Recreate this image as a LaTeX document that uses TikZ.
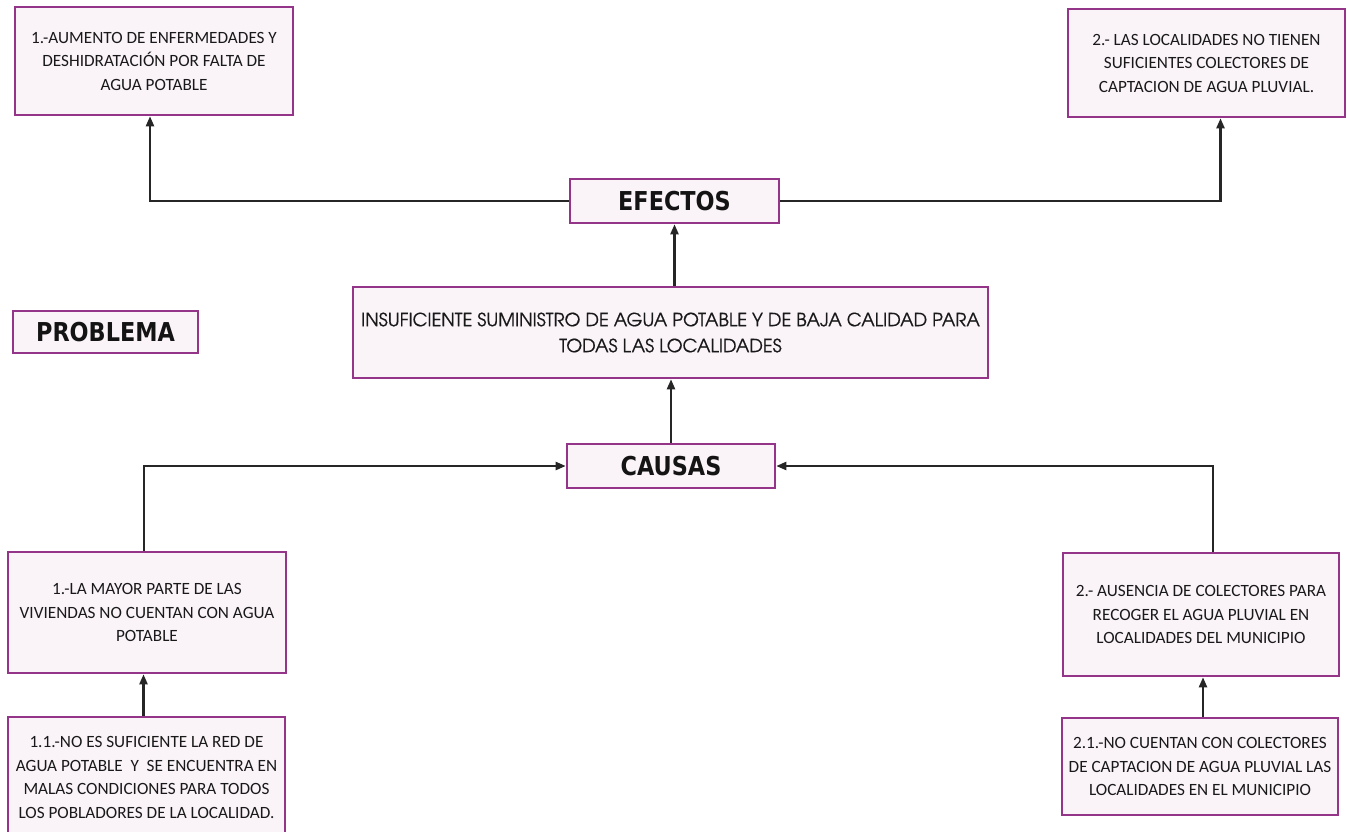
\documentclass[tikz,border=0pt]{standalone}
\usepackage{graphicx}
\usepackage{fontspec}
\setmainfont{Carlito}
\newfontfamily\headfont{DejaVu Sans}
\newfontfamily\gothfont{TeX Gyre Adventor}[FakeBold=0.6]
\usetikzlibrary{arrows.meta,calc}
\definecolor{boxborder}{HTML}{94358A}
\definecolor{boxfill}{HTML}{FAF4F9}
\definecolor{linecol}{HTML}{262626}
\newcommand{\headtext}[1]{\scalebox{0.86}[1]{#1}}
\tikzset{
  box/.style={draw=boxborder, line width=2.6pt, fill=boxfill, align=center, inner sep=0pt,
    rectangle, text=black!90, font=\fontsize{17.2}{23.5}\selectfont},
  headbox/.style={box, text=black!92, font=\headfont\bfseries\fontsize{26}{30}\selectfont},
  conn/.style={draw=linecol, line width=2.2pt},
  arr/.style={conn, -{Triangle[length=10pt,width=8pt]}}
}
\begin{document}
\begin{tikzpicture}[x=1pt,y=-1pt]
\clip (0,0) rectangle (1347,831);
\fill[white] (0,0) rectangle (1347,831);

% effects
\node[box, minimum width=278pt, minimum height=108pt] (a) at (154,61)
  {1.-AUMENTO DE ENFERMEDADES Y\\DESHIDRATACIÓN POR FALTA DE\\AGUA POTABLE};
\node[box, minimum width=277pt, minimum height=108pt] (b) at (1206.5,63)
  {2.- LAS LOCALIDADES NO TIENEN\\SUFICIENTES COLECTORES DE\\CAPTACION DE AGUA PLUVIAL.};
\node[headbox, minimum width=209pt, minimum height=44pt] (efectos) at (674.5,201) {\headtext{EFECTOS}};

% problem
\node[headbox, minimum width=185pt, minimum height=42pt] (problema) at (105.5,332) {\headtext{PROBLEMA}};
\node[box, minimum width=635pt, minimum height=91pt, font=\gothfont\fontsize{18.2}{26}\selectfont] (centro) at (670.5,332.5)
  {INSUFICIENTE SUMINISTRO DE AGUA POTABLE Y DE BAJA CALIDAD PARA\\TODAS LAS LOCALIDADES};

% causes
\node[headbox, minimum width=208pt, minimum height=44pt] (causas) at (671,466) {\headtext{CAUSAS}};
\node[box, minimum width=278pt, minimum height=121pt] (d) at (147,612.5)
  {1.-LA MAYOR PARTE DE LAS\\VIVIENDAS NO CUENTAN CON AGUA\\POTABLE};
\node[box, minimum width=276pt, minimum height=123pt] (e) at (1201,614.5)
  {2.- AUSENCIA DE COLECTORES PARA\\RECOGER EL AGUA PLUVIAL EN\\LOCALIDADES DEL MUNICIPIO};
\node[box, minimum width=277pt, minimum height=121pt] (g) at (146.5,777.5)
  {1.1.-NO ES SUFICIENTE LA RED DE\\AGUA POTABLE\ \ Y\ \ SE ENCUENTRA EN\\MALAS CONDICIONES PARA TODOS\\LOS POBLADORES DE LA LOCALIDAD.};
\node[box, minimum width=276pt, minimum height=97pt] (f) at (1200,766.5)
  {2.1.-NO CUENTAN CON COLECTORES\\DE CAPTACION DE AGUA PLUVIAL LAS\\LOCALIDADES EN EL MUNICIPIO};

% connectors
\draw[arr] (centro.north -| efectos.south) -- (efectos.south);
\draw[arr] (efectos.west) -| ([xshift=-4pt]a.south);
\draw[arr] (efectos.east) -| ([xshift=14pt]b.south);
\draw[arr] (causas.north) -- (causas.north |- centro.south);
\draw[arr] ([xshift=-3pt]d.north) |- (causas.west);
\draw[arr] ([xshift=12pt]e.north) |- (causas.east);
\draw[arr] ([xshift=-3pt]g.north) -- ([xshift=-3pt]g.north |- d.south);
\draw[arr] ([xshift=3pt]f.north) -- ([xshift=3pt]f.north |- e.south);
\end{tikzpicture}
\end{document}
